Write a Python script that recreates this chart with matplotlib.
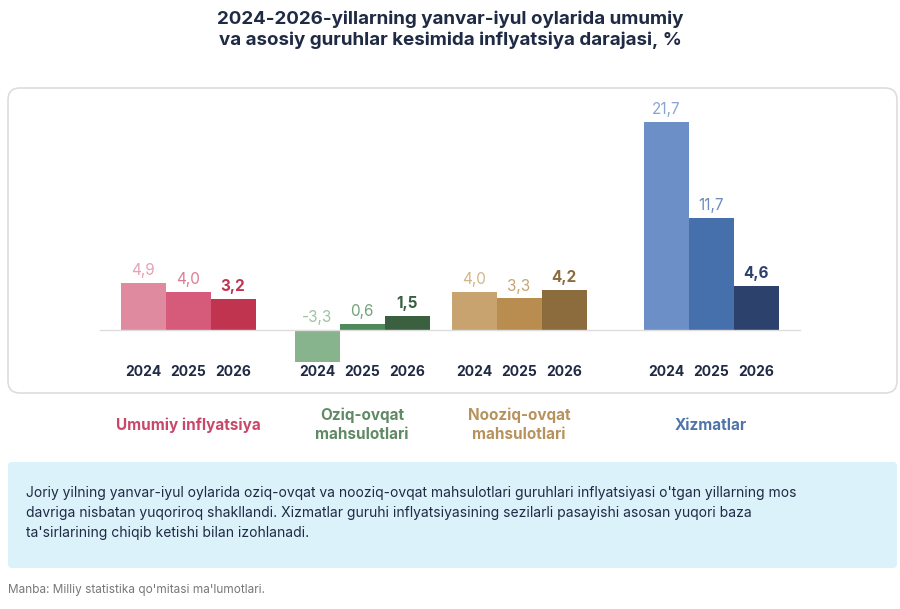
import matplotlib.pyplot as plt
from matplotlib.patches import FancyBboxPatch
import numpy as np

# shrift sozlamalari
plt.rc('font', family='Inter')
plt.rcParams['axes.unicode_minus'] = False

# ma'lumotlar
years = ['2024', '2025', '2026']
groups = ['Umumiy inflyatsiya', 'Oziq-ovqat\nmahsulotlari', 'Nooziq-ovqat\nmahsulotlari', 'Xizmatlar']
values = [[4.9, 4.0, 3.2], [-3.3, 0.6, 1.5], [4.0, 3.3, 4.2], [21.7, 11.7, 4.6]]
centers = [188, 362, 519, 711]  # guruh markazlari (piksel)
colors = [['#e08aa0', '#d65a7a', '#c1344f'],
          ['#87b48c', '#4f8a5a', '#3a6040'],
          ['#c9a36f', '#b98d4f', '#8c6b3c'],
          ['#6c8fc8', '#4670ac', '#2c416b']]
label_colors = ['#c9486a', '#5f8a63', '#b8925c', '#4f74aa']
bw = 45

W, H = 900, 609
fig = plt.figure(figsize=(9, 6.09), dpi=100)

# fon paneli
bg = fig.add_axes([0, 0, 1, 1])
bg.set_xlim(0, W)
bg.set_ylim(H, 0)
bg.axis('off')
bg.add_patch(FancyBboxPatch((8, 88), 889, 305, boxstyle='round,pad=0,rounding_size=12',
                            fc='white', ec='#dddddd', lw=1.2))
bg.add_patch(FancyBboxPatch((8, 462), 889, 106, boxstyle='round,pad=0,rounding_size=4',
                            fc='#dcf2fb', ec='none'))

bg.text(450, 30, '2024-2026-yillarning yanvar-iyul oylarida umumiy\nva asosiy guruhlar kesimida inflyatsiya darajasi, %',
        ha='center', va='center', fontsize=13.5, fontweight='bold', color='#1f2a44', linespacing=1.25)

# ustunlar
ax = fig.add_axes([0, (H - 380) / H, 1, 280 / H])
ax.set_xlim(0, W)
ax.set_ylim(-50 / 9.6, 230 / 9.6)
ax.axis('off')
ax.axhline(0, xmin=100 / W, xmax=800 / W, color='#dddddd', lw=1)

for g, c in enumerate(centers):
    for i, v in enumerate(values[g]):
        x = c + (i - 1) * bw
        ax.bar(x, v, width=bw, color=colors[g][i])
        y = max(v, 0) + 0.5
        ax.text(x, y, f'{v:.1f}'.replace('.', ','), ha='center', va='bottom', fontsize=11,
                color=colors[g][i] if i < 2 else colors[g][2],
                fontweight='bold' if i == 2 else 'normal', alpha=0.8 if i < 2 else 1)
        bg.text(x, 372, years[i], ha='center', va='center', fontsize=10, fontweight='bold', color='#1f2a44')
    bg.text(c, 425, groups[g], ha='center', va='center', fontsize=11, fontweight='bold',
            color=label_colors[g], linespacing=1.3)

# izoh matni
bg.text(26, 513, "Joriy yilning yanvar-iyul oylarida oziq-ovqat va nooziq-ovqat mahsulotlari guruhlari inflyatsiyasi o'tgan yillarning mos\n"
        "davriga nisbatan yuqoriroq shakllandi. Xizmatlar guruhi inflyatsiyasining sezilarli pasayishi asosan yuqori baza\n"
        "ta'sirlarining chiqib ketishi bilan izohlanadi.",
        ha='left', va='center', fontsize=10, color='#1f2a44', linespacing=1.55)
bg.text(8, 590, "Manba: Milliy statistika qo'mitasi ma'lumotlari.", ha='left', va='center', fontsize=8.5, color='#777777')

fig.savefig('out.png', dpi=100)
